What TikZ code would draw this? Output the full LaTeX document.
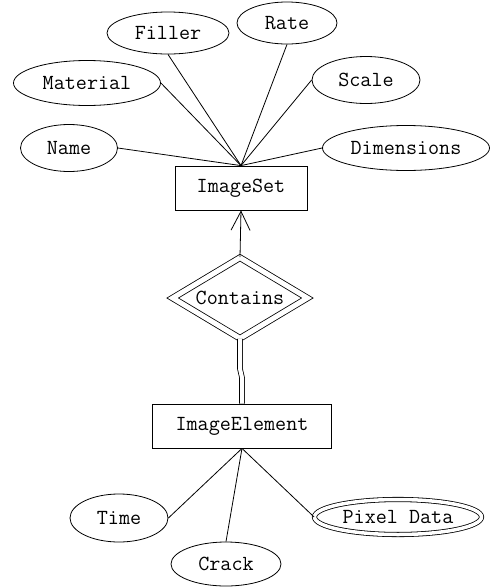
\documentclass[tikz,border=0pt]{standalone}
\usepackage{fontspec}
\usetikzlibrary{shapes.geometric,arrows.meta,calc}
\begin{document}
\begin{tikzpicture}[x=1pt,y=-1pt,
  every node/.style={font=\ttfamily\fontsize{21.5}{25}\selectfont, inner sep=0pt},
  attr/.style={ellipse, draw, line width=0.8pt},
  entity/.style={rectangle, draw, line width=0.8pt, minimum height=44pt},
  conn/.style={line width=0.8pt}]
\useasboundingbox (0,0) rectangle (491,587);
% entities
\node[entity, minimum width=132pt] (iset) at (241,188) {ImageSet};
\node[entity, minimum width=179pt] (ielem) at (242,426) {ImageElement};
% relationship
\node[diamond, draw, double, double distance=5pt, line width=0.8pt,
      aspect=1.67, minimum width=135pt, minimum height=81pt] (contains) at (240,298) {Contains};
% attributes of ImageSet
\node[attr, minimum width=97pt, minimum height=47pt] (name) at (69,148) {Name};
\node[attr, minimum width=147pt, minimum height=45pt] (mat) at (87,83) {Material};
\node[attr, minimum width=122pt, minimum height=42pt] (filler) at (168,33) {Filler};
\node[attr, minimum width=100pt, minimum height=42pt] (rate) at (287,23) {Rate};
\node[attr, minimum width=108pt, minimum height=47pt] (scale) at (366,80) {Scale};
\node[attr, minimum width=167pt, minimum height=45pt] (dim) at (406,148) {Dimensions};
% attributes of ImageElement
\node[attr, minimum width=98pt, minimum height=48pt] (time) at (119,518) {Time};
\node[attr, minimum width=110pt, minimum height=44pt] (crack) at (226,564) {Crack};
\node[ellipse, draw, double, double distance=3.5pt, line width=0.8pt,
      minimum width=167pt, minimum height=35pt] (pix) at (398,517) {Pixel Data};
% connectors
\draw[conn] (name.east) -- (iset.north);
\draw[conn] (mat.east) -- (iset.north);
\draw[conn] (filler.south) -- (iset.north);
\draw[conn] (rate.south) -- (iset.north);
\draw[conn] (scale.west) -- (iset.north);
\draw[conn] (dim.west) -- (iset.north);
\draw[conn, -{Straight Barb[length=19pt, width=19pt, line width=0.8pt]}] (contains.north) -- (iset.south);
\draw[conn, double, double distance=4pt] (contains.south) -- ($(contains.south)+(0,30)$) -- ($(ielem.north)+(0,-26)$) -- (ielem.north);
\draw[conn] (time.east) -- (ielem.south);
\draw[conn] (crack.north) -- (ielem.south);
\draw[conn] (pix.west) -- (ielem.south);
\end{tikzpicture}
\end{document}
